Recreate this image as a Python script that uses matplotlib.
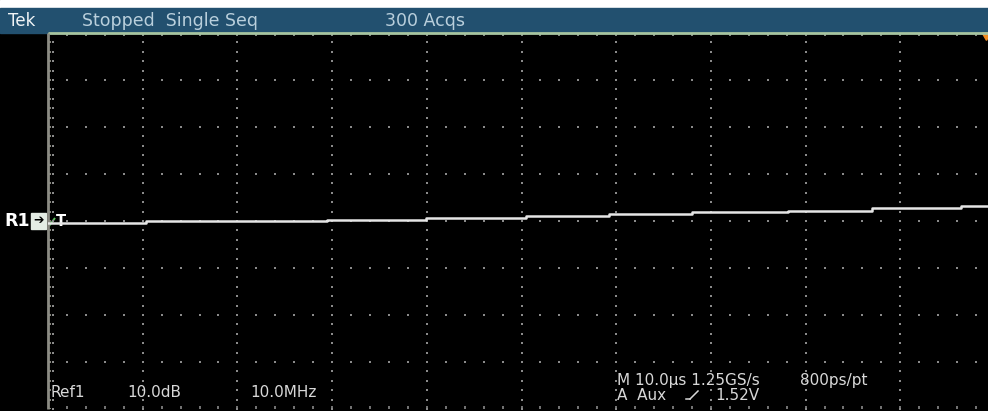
import matplotlib
matplotlib.use("Agg")
import matplotlib.pyplot as plt
from matplotlib.patches import Rectangle
import numpy as np

# ---- data ----
# trace: step edges (time, us) and level after each edge (dB)
step_time_us = [0.0, 10.4, 29.5, 39.9, 50.5, 59.2, 68.0, 78.1, 87.0, 96.4]
step_level_db = [-0.4, -0.04, 0.2, 0.7, 1.1, 1.5, 1.9, 2.2, 2.7, 3.1]
time_per_div_us = 10.0
db_per_div = 10.0
n_hdiv = 10
n_vdiv = 8

status_labels = ["Tek", "Stopped  Single Seq", "300 Acqs"]
ref_labels = ["Ref1", "10.0dB", "10.0MHz"]
horiz_labels = ["M 10.0\u03bcs 1.25GS/s", "800ps/pt"]
trig_labels = ["A  Aux", "\u2215", "1.52V"]

W, H = 988, 411
fig = plt.figure(figsize=(W / 100, H / 100), dpi=100)
fig.patch.set_facecolor("black")

bg = fig.add_axes([0, 0, 1, 1])
bg.set_xlim(0, W)
bg.set_ylim(H, 0)
bg.axis("off")
bg.set_facecolor("black")

# top status bar
bg.add_patch(Rectangle((0, 0), W, 8, color="white", zorder=1))
bg.add_patch(Rectangle((0, 8), W, 25, color="#22506f", zorder=1))

narrow = ["Liberation Sans Narrow", "DejaVu Sans"]
bg.text(8, 21, status_labels[0], color="#f0f4f6", fontsize=12, family=["DejaVu Sans"],
        va="center", ha="left", zorder=3)
bg.text(82, 21, status_labels[1], color="#b9cfdc", fontsize=12.5, family=narrow,
        va="center", ha="left", zorder=3)
bg.text(385, 21, status_labels[2], color="#b9cfdc", fontsize=12.5, family=narrow,
        va="center", ha="left", zorder=3)

# graticule axes
left_px, right_px = 48, 48 + 94.7 * n_hdiv
top_px, bot_px = 33, 33 + 47 * n_vdiv
ax = fig.add_axes([left_px / W, (H - bot_px) / H, (right_px - left_px) / W, (bot_px - top_px) / H])
ax.set_facecolor("none")
xmax = n_hdiv * time_per_div_us
ymax = n_vdiv / 2 * db_per_div
ax.set_xlim(0, xmax)
ax.set_ylim(-ymax, ymax)
ax.axis("off")

dot_col = "#8a8a8a"
minor_x = np.arange(0, xmax + 1e-9, time_per_div_us / 5)
minor_y = np.arange(-ymax, ymax + 1e-9, db_per_div / 5)
major_x = np.arange(time_per_div_us, xmax, time_per_div_us)
major_y = np.arange(-ymax + db_per_div, ymax, db_per_div)

# dots along vertical grid lines
vx, vy = np.meshgrid(major_x, minor_y)
ax.scatter(vx.ravel(), vy.ravel(), s=2.2, c=dot_col, marker="s", linewidths=0, zorder=2)
# dots along horizontal grid lines
hx, hy = np.meshgrid(minor_x, major_y)
ax.scatter(hx.ravel(), hy.ravel(), s=2.2, c=dot_col, marker="s", linewidths=0, zorder=2)
# dots next to left border
ax.scatter(np.full(minor_y.shape, 0.55), minor_y, s=2.2, c=dot_col, marker="s", linewidths=0, zorder=2)

# border ticks
ax.vlines(minor_x, ymax - 0.7, ymax, color="#9aa59a", lw=1.2, zorder=3)
ax.vlines(minor_x, -ymax, -ymax + 0.6, color=dot_col, lw=1.2, zorder=3)
ax.hlines(minor_y, 0, 0.3, color="#9a9a90", lw=1.2, zorder=3)

# border lines
ax.plot([0, xmax], [ymax, ymax], color="#a7c4a0", lw=2.0, zorder=4, clip_on=False, solid_capstyle="butt")
ax.plot([0, 0], [-ymax, ymax], color="#8c8c84", lw=2.0, zorder=4, clip_on=False, solid_capstyle="butt")

# trace
tx = step_time_us + [xmax]
ty = step_level_db + [step_level_db[-1]]
ax.step(tx, ty, where="post", color="#e6e6e6", lw=1.8, zorder=5)

# orange corner marker
bg.plot([W - 2], [35], marker=(3, 0, 180), color="#f08a20", markersize=7, zorder=6, clip_on=False)

# left reference marker R1 and trigger T
bg.text(4, 221, "R1", color="white", fontsize=12.5, fontweight="bold", family=["DejaVu Sans"],
        va="center", ha="left", zorder=6)
bg.add_patch(Rectangle((31, 213), 15, 16, color="#e4ece4", zorder=6))
bg.text(38.5, 221, "\u2794", color="black", fontsize=9, family=["DejaVu Sans"],
        va="center", ha="center", zorder=7)
bg.plot([49, 55], [226, 218], color="#5fc060", lw=1.4, zorder=7, solid_capstyle="butt")
bg.text(56, 221, "T", color="white", fontsize=10.5, fontweight="bold", family=["DejaVu Sans"],
        va="center", ha="left", zorder=7)

# bottom readouts
txt_col = "#d8d8d8"
bg.text(50, 392, ref_labels[0], color=txt_col, fontsize=11, family=["DejaVu Sans"], va="center", ha="left")
bg.text(127, 392, ref_labels[1], color=txt_col, fontsize=11, family=["DejaVu Sans"], va="center", ha="left")
bg.text(250, 392, ref_labels[2], color=txt_col, fontsize=11, family=["DejaVu Sans"], va="center", ha="left")

bg.text(617, 380, horiz_labels[0], color=txt_col, fontsize=11, family=narrow, va="center", ha="left")
bg.text(800, 380, horiz_labels[1], color=txt_col, fontsize=11, family=narrow, va="center", ha="left")
bg.text(617, 395, trig_labels[0], color=txt_col, fontsize=11, family=narrow, va="center", ha="left")
bg.plot([690, 698], [399, 391], color=txt_col, lw=1.1)
bg.plot([686, 690], [399, 399], color=txt_col, lw=1.1)
bg.text(715, 395, trig_labels[2], color=txt_col, fontsize=11, family=narrow, va="center", ha="left")

fig.savefig("out.png", dpi=100, facecolor="black")
